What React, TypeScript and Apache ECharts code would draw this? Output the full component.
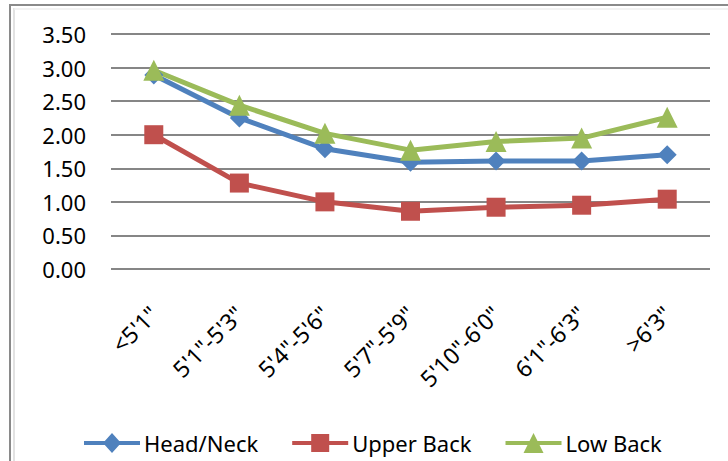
import React, { useEffect, useRef } from "react";
import * as echarts from "echarts";

const categories = ["<5'1\"", "5'1\"-5'3\"", "5'4\"-5'6\"", "5'7\"-5'9\"", "5'10\"-6'0\"", "6'1\"-6'3\"", ">6'3\""];
const headNeck = [2.89, 2.25, 1.79, 1.59, 1.61, 1.61, 1.70];
const upperBack = [2.00, 1.28, 1.00, 0.86, 0.92, 0.95, 1.04];
const lowBack = [2.96, 2.44, 2.02, 1.77, 1.90, 1.95, 2.26];

const FONT = "Noto Sans";

const LINE = "M0 8 L56 8 L56 12 L0 12 Z ";
const ICON_DIAMOND = "path://" + LINE + "M28 0 L37 10 L28 20 L19 10 Z";
const ICON_SQUARE = "path://" + LINE + "M19 1 L37 1 L37 19 L19 19 Z";
const ICON_TRI = "path://" + LINE + "M28 0 L38 20 L18 20 Z";

export default function App() {
  const ref = useRef<HTMLDivElement>(null);
  useEffect(() => {
    const chart = echarts.init(ref.current!, null, { renderer: "svg" });
    const mk = (name: string, data: number[], color: string, symbol: string, size: number) => ({
      name,
      type: "line",
      data,
      symbol,
      symbolSize: size,
      lineStyle: { color, width: 5 },
      itemStyle: { color },
      z: 3,
    });
    chart.setOption({
      animation: false,
      backgroundColor: "#fff",
      textStyle: { fontFamily: FONT },
      grid: { left: 111, right: 18, top: 34, bottom: 192 },
      xAxis: {
        type: "category",
        data: categories,
        boundaryGap: true,
        axisLine: { show: false },
        axisTick: { show: false },
        axisLabel: { rotate: 45, margin: 41, fontSize: 23, color: "#000", fontFamily: FONT, interval: 0 },
      },
      yAxis: {
        type: "value",
        min: 0,
        max: 3.5,
        interval: 0.5,
        axisLine: { show: false },
        axisTick: { show: false },
        splitLine: { lineStyle: { color: "#868686", width: 2 } },
        axisLabel: { formatter: (v: number) => v.toFixed(2), fontSize: 22, color: "#000", margin: 25, fontFamily: FONT },
      },
      legend: {
        left: 84,
        top: 432,
        padding: 0,
        itemWidth: 56,
        itemHeight: 20,
        itemGap: 34,
        textStyle: { fontSize: 22, lineHeight: 22, color: "#000", fontFamily: FONT, padding: [0, 0, 0, -1] },
        data: [
          { name: "Head/Neck", icon: ICON_DIAMOND },
          { name: "Upper Back", icon: ICON_SQUARE },
          { name: "Low Back", icon: ICON_TRI },
        ],
      },
      graphic: [
        { type: "line", shape: { x1: 9, y1: 5, x2: 728, y2: 5 }, style: { stroke: "#8a8a8a", lineWidth: 2 } },
        { type: "line", shape: { x1: 10, y1: 5, x2: 10, y2: 461 }, style: { stroke: "#8a8a8a", lineWidth: 2 } },
        { type: "line", shape: { x1: 14, y1: 8, x2: 14, y2: 461 }, style: { stroke: "#d8d8d8", lineWidth: 1.5 } },
        { type: "line", shape: { x1: 14, y1: 9, x2: 728, y2: 9 }, style: { stroke: "#eeeeee", lineWidth: 1.5 } },
      ],
      series: [
        mk("Head/Neck", headNeck, "#4F81BD", "diamond", 19),
        mk("Upper Back", upperBack, "#C0504D", "rect", 19),
        mk("Low Back", lowBack, "#9BBB59", "triangle", 21),
      ],
    });
    return () => chart.dispose();
  }, []);
  return <div ref={ref} style={{ width: 728, height: 461, position: "fixed", left: 0, top: 0 }} />;
}
